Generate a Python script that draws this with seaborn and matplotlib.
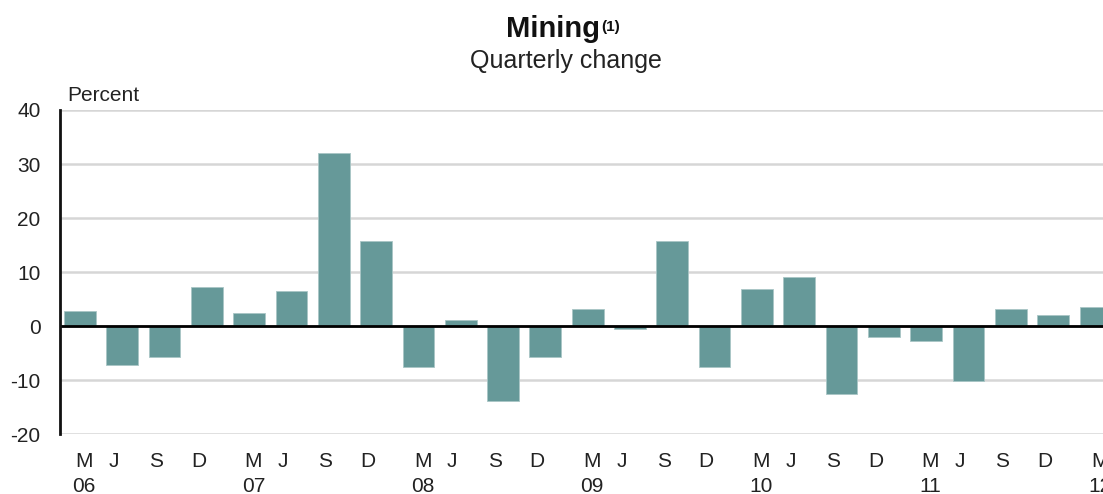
import numpy as np
import matplotlib
matplotlib.use("Agg")
import matplotlib.pyplot as plt
import seaborn as sns

# Quarterly change in mining, Mar 2006 - Mar 2012
quarters = ["M", "J", "S", "D"] * 6 + ["M"]
years = ["06", "07", "08", "09", "10", "11", "12"]
values = [2.7, -7.3, -5.8, 7.2, 2.4, 6.4, 32.0, 15.7,
          -7.6, 1.2, -13.9, -5.7, 3.1, -0.6, 15.7, -7.6,
          6.8, 9.0, -12.5, -2.1, -2.8, -10.2, 3.1, 2.0, 3.5]
yticks = [-20, -10, 0, 10, 20, 30, 40]

sns.set_style("white")
plt.rcParams["font.family"] = ["Liberation Sans", "DejaVu Sans"]

W, H = 1103, 494
fig = plt.figure(figsize=(W / 100, H / 100), dpi=100)
ax = fig.add_axes([60 / W, 1 - 434 / H, 1 - 60 / W, 324 / H])

x = np.arange(len(values))
sns.barplot(x=x, y=values, color="#669999", saturation=1, width=0.75,
            edgecolor="#a9c6c6", linewidth=0.6, ax=ax, zorder=3)

ax.set_xlim(-0.47, 24.18)
ax.set_ylim(-20, 40)
ax.set_yticks(yticks)
ax.set_yticklabels([str(v) for v in yticks], fontsize=15, color="#222222")
ax.grid(axis="y", color="#d6d6d6", linewidth=1.8, zorder=0)
ax.axhline(0, color="black", linewidth=2, zorder=4)

# month labels sit a little off the bar centres, year under each March
offsets = {"M": 0.1, "J": -0.2, "S": -0.2, "D": -0.2}
ticks = [i + offsets[q] for i, q in enumerate(quarters)]
labels = []
yi = 0
for q in quarters:
    if q == "M":
        labels.append(q + "\n" + years[yi])
        yi += 1
    else:
        labels.append(q + "\n")
ax.set_xticks(ticks)
ax.set_xticklabels(labels, fontsize=15, color="#222222", linespacing=1.4,
                   va="top")
ax.tick_params(axis="both", length=0)
ax.tick_params(axis="x", pad=13)
ax.tick_params(axis="y", pad=14)

for s in ["top", "right", "bottom"]:
    ax.spines[s].set_visible(False)
ax.spines["left"].set_color("#111111")
ax.spines["left"].set_linewidth(2)
ax.spines["left"].set_zorder(5)

fig.text(553 / W, 1 - 37 / H, "Mining", ha="center", va="baseline",
         fontsize=21, fontweight="bold", color="#111111")
fig.text(601 / W, 1 - 31 / H, "(1)", ha="left", va="baseline",
         fontsize=11, fontweight="bold", color="#111111")
fig.text(566 / W, 1 - 68 / H, "Quarterly change", ha="center", va="baseline",
         fontsize=18, color="#222222")
fig.text(67 / W, 1 - 101 / H, "Percent", ha="left", va="baseline",
         fontsize=15, color="#222222")

fig.savefig("out.png", dpi=100)
